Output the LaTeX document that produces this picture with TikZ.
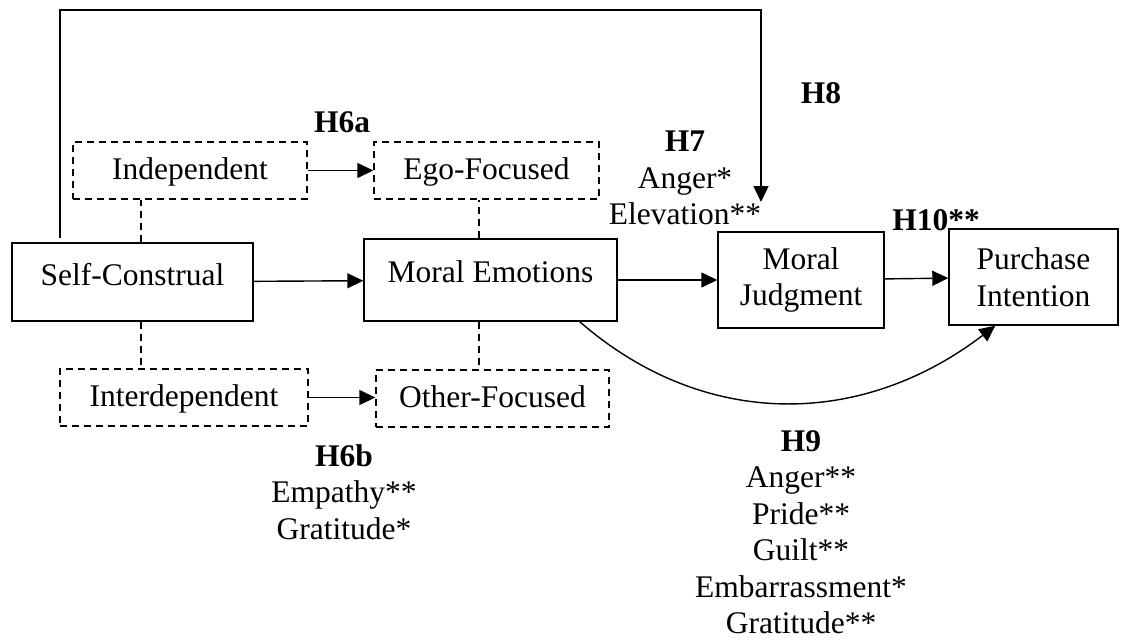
\documentclass[tikz,border=0pt]{standalone}
\usepackage{fontspec}
\setmainfont{Liberation Serif}
\usetikzlibrary{arrows.meta}

\begin{document}
\begin{tikzpicture}[%
    x=1pt, y=-1pt,
    >={Triangle[length=16pt,width=15pt]},
    line width=1.4pt,
    every node/.style={font=\fontsize{31.5}{36.5}\selectfont, align=center},
    box/.style={draw, inner sep=0pt},
    dbox/.style={draw, dash pattern=on 7pt off 5pt, inner sep=0pt,
      minimum height=57pt, text height=23pt, text depth=6pt},
    dline/.style={dash pattern=on 7pt off 5pt},
    hyp/.style={font=\fontsize{31.5}{36.5}\selectfont\bfseries}
    ]

    \useasboundingbox (0,0) rectangle (1121,640);

    \node[box, minimum width=241pt, text height=42pt, text depth=36pt] (sc) at (132.5,282) {Self-Construal};
    \node[box, minimum width=253pt, text height=43pt, text depth=39pt] (me) at (490.5,280) {Moral Emotions};
    \node[box, minimum width=166pt, minimum height=96pt] (mj) at (801,280) {Moral\\Judgment};
    \node[box, minimum width=169pt, minimum height=96pt] (pi) at (1033.5,277) {Purchase\\Intention};

    \node[dbox, minimum width=234pt] (ind) at (190,170.5) {Independent};
    \node[dbox, minimum width=225pt] (ego) at (486.5,170.5) {Ego-Focused};
    \node[dbox, minimum width=248pt] (inter) at (184,397.5) {Interdependent};
    \node[dbox, minimum width=233pt] (other) at (492.5,398.5) {Other-Focused};

    \node[hyp] (h6a) at (342,122) {H6a};
    \node (h6b) at (344,492) {\textbf{H6b}\\Empathy**\\Gratitude*};
    \node (h7) at (685,178) {\textbf{H7}\\Anger*\\Elevation**};
    \node[hyp] (h8) at (821,93) {H8};
    \node[hyp] (h10) at (936,220) {H10**};
    \node (h9) at (801,532) {\textbf{H9}\\Anger**\\Pride**\\Guilt**\\Embarrassment*\\Gratitude**};

    \draw[->] (sc) -- (me);
    \draw[->] (me) -- (mj);
    \draw[->] (mj) -- (pi);
    \draw[->] (ind) -- (ego);
    \draw[->] (inter.east) -- (inter.east -| other.west);

    \draw[dline] ([xshift=8.5pt]sc.north) -- ([xshift=-49pt]ind.south);
    \draw[dline] ([xshift=8.5pt]sc.south) -- ([xshift=-43pt]inter.north);
    \draw[dline] ([xshift=-11.5pt]me.north) -- ([xshift=-7.5pt]ego.south);
    \draw[dline] ([xshift=-11.5pt]me.south) -- ([xshift=-13.5pt]other.north);

    \coordinate (h8a) at (60,238);
    \coordinate (h8b) at (761,10);
    \coordinate (h8c) at (761,202);
    \draw[->] (h8a) |- (h8b) -- (h8c);

    \draw[->] ([xshift=-38pt]me.south east) .. controls (703,429) and (860,429) .. ([xshift=47pt]pi.south west);

\end{tikzpicture}
\end{document}
